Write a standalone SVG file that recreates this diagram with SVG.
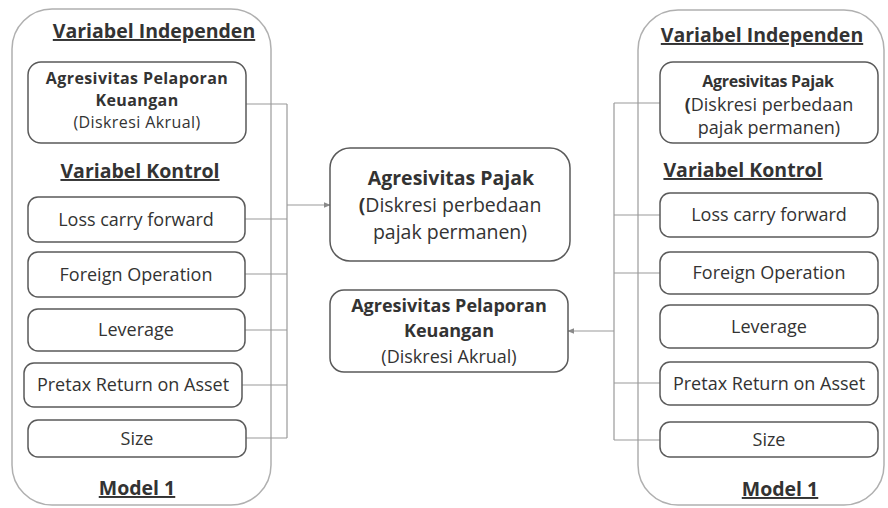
<svg xmlns="http://www.w3.org/2000/svg" width="888" height="508" viewBox="0 0 888 508">
<defs>
<style>
.panel{fill:#fff;stroke:#b0b0b0;stroke-width:1.5}
.box{fill:#fff;stroke:#5a5a5a;stroke-width:1.5}
.conn{fill:none;stroke:#9a9a9a;stroke-width:1.2}
text{font-family:"Open Sans","Liberation Sans",sans-serif;fill:#333;text-anchor:middle}
.h{font-size:19.5px;font-weight:bold;text-decoration:underline}
.t{font-size:18px}
.s{font-size:16px;letter-spacing:0.4px}
.b{font-weight:bold}
.c{font-size:19.5px}
</style>
<marker id="arr" viewBox="0 0 10 10" refX="9" refY="5" markerWidth="6" markerHeight="6" orient="auto-start-reverse">
<path d="M0,1 L10,5 L0,9 z" fill="#8a8a8a"/>
</marker>
</defs>
<rect width="888" height="508" fill="#fff"/>
<g id="panel-left">
<rect class="panel" x="12" y="9" width="259" height="496" rx="40"/>
<text class="h" x="154" y="38">Variabel Independen</text>
<text class="h" x="140" y="178">Variabel Kontrol</text>
<text class="h" x="137" y="495">Model 1</text>
</g>
<g id="panel-right">
<rect class="panel" x="638" y="10" width="246" height="495" rx="40"/>
<text class="h" x="762" y="42">Variabel Independen</text>
<text class="h" x="743" y="177">Variabel Kontrol</text>
<text class="h" x="780" y="496">Model 1</text>
</g>
<g id="connectors">
<path class="conn" d="M246,104 H287 M245,219 H287 M245,274 H287 M245,330 H287 M242,385 H287 M246,438 H287 M287,104 V438"/>
<path class="conn" d="M287,205 H330" marker-end="url(#arr)"/>
<path class="conn" d="M660,103 H614 M660,215 H614 M660,273 H614 M660,383 H614 M660,440 H614 M614,103 V440"/>
<path class="conn" d="M614,331 H568" marker-end="url(#arr)"/>
</g>
<g id="L-apk">
<rect class="box" x="28" y="62" width="218" height="81" rx="13"/>
<text class="s b" x="137" y="84">Agresivitas Pelaporan</text>
<text class="s b" x="137" y="106">Keuangan</text>
<text class="s" x="137" y="128">(Diskresi Akrual)</text>
</g>
<g id="L-loss">
<rect class="box" x="28" y="197" width="217" height="45" rx="10"/>
<text class="t" x="136" y="226">Loss carry forward</text>
</g>
<g id="L-foreign">
<rect class="box" x="28" y="252" width="217" height="45" rx="10"/>
<text class="t" x="136" y="281">Foreign Operation</text>
</g>
<g id="L-leverage">
<rect class="box" x="28" y="309" width="217" height="42" rx="10"/>
<text class="t" x="136" y="336">Leverage</text>
</g>
<g id="L-pretax">
<rect class="box" x="24" y="363" width="218" height="44" rx="10"/>
<text class="t" x="133" y="391">Pretax Return on Asset</text>
</g>
<g id="L-size">
<rect class="box" x="28" y="420" width="218" height="37" rx="10"/>
<text class="t" x="137" y="445">Size</text>
</g>
<g id="C-pajak">
<rect class="box" x="330" y="148" width="240" height="113" rx="20"/>
<text class="c b" x="451" y="185">Agresivitas Pajak</text>
<text class="c" x="450" y="212"><tspan class="b">(</tspan>Diskresi perbedaan</text>
<text class="c" x="450" y="239">pajak permanen)</text>
</g>
<g id="C-pelaporan">
<rect class="box" x="330" y="290" width="238" height="82" rx="14"/>
<text class="t b" x="449" y="312">Agresivitas Pelaporan</text>
<text class="t b" x="449" y="337">Keuangan</text>
<text class="t" x="449" y="363">(Diskresi Akrual)</text>
</g>
<g id="R-pajak">
<rect class="box" x="660" y="62" width="218" height="81" rx="13"/>
<text class="b" x="768" y="87" style="font-size:16px;letter-spacing:-0.3px">Agresivitas Pajak</text>
<text class="t" x="769" y="111"><tspan class="b">(</tspan>Diskresi perbedaan</text>
<text class="t" x="769" y="134">pajak permanen)</text>
</g>
<g id="R-loss">
<rect class="box" x="660" y="193" width="218" height="44" rx="10"/>
<text class="t" x="769" y="221">Loss carry forward</text>
</g>
<g id="R-foreign">
<rect class="box" x="660" y="252" width="218" height="42" rx="10"/>
<text class="t" x="769" y="279">Foreign Operation</text>
</g>
<g id="R-leverage">
<rect class="box" x="660" y="305" width="218" height="43" rx="10"/>
<text class="t" x="769" y="333">Leverage</text>
</g>
<g id="R-pretax">
<rect class="box" x="660" y="362" width="218" height="43" rx="10"/>
<text class="t" x="769" y="390">Pretax Return on Asset</text>
</g>
<g id="R-size">
<rect class="box" x="660" y="422" width="218" height="35" rx="10"/>
<text class="t" x="769" y="446">Size</text>
</g>
</svg>
